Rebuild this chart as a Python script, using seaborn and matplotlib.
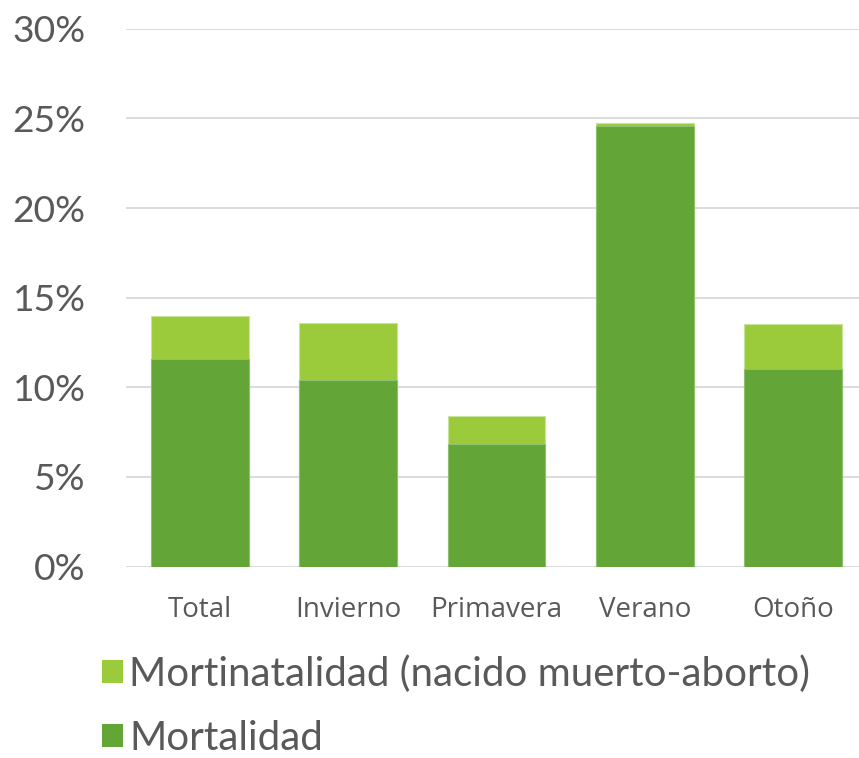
import matplotlib
matplotlib.use("Agg")
import matplotlib.pyplot as plt
import seaborn as sns
import pandas as pd
from matplotlib.patches import Patch
from matplotlib.ticker import PercentFormatter

categorias = ["Total", "Invierno", "Primavera", "Verano", "Otoño"]
mortalidad = [11.6, 10.4, 6.85, 24.55, 11.0]
mortinatalidad = [2.4, 3.2, 1.55, 0.18, 2.55]
yticks = [0, 5, 10, 15, 20, 25, 30]

c_dark = "#63A537"
c_light = "#9BCB3B"
txt = "#595959"

sns.set_theme(style="white")
plt.rcParams["font.family"] = ["Lato", "DejaVu Sans"]

df = pd.DataFrame({
    "cat": categorias,
    "mortalidad": mortalidad,
    "total": [a + b for a, b in zip(mortalidad, mortinatalidad)],
})

fig = plt.figure(figsize=(8.59, 7.58), dpi=100)
ax = fig.add_axes([126 / 859, 1 - 566.5 / 758, 741 / 859, (566.5 - 28.8) / 758])

sns.barplot(data=df, x="cat", y="total", color=c_light, saturation=1, width=0.66,
            edgecolor="#C8E39A", linewidth=0.8, ax=ax)
sns.barplot(data=df, x="cat", y="mortalidad", color=c_dark, saturation=1, width=0.66,
            edgecolor="#8FC070", linewidth=0.8, ax=ax)

ax.set_ylim(0, 30)
ax.set_xlim(-0.5, 4.5)
ax.set_yticks(yticks)
ax.yaxis.set_major_formatter(PercentFormatter(decimals=0))
ax.grid(axis="y", color="#D9D9D9", linewidth=1.3)
ax.set_axisbelow(True)
for s in ax.spines.values():
    s.set_visible(False)
ax.set_xlabel("")
ax.set_ylabel("")
ax.tick_params(axis="y", labelsize=26.8, labelcolor=txt, length=0, pad=29)
ax.tick_params(axis="x", labelsize=20, labelcolor=txt, length=0, pad=21)
for lab in ax.get_xticklabels():
    lab.set_fontfamily(["Open Sans", "DejaVu Sans"])

handles = [Patch(facecolor=c_light, edgecolor="none", label="Mortinatalidad (nacido muerto-aborto)"),
           Patch(facecolor=c_dark, edgecolor="none", label="Mortalidad")]
fig.legend(handles=handles, loc="upper left", bbox_to_anchor=(102 / 859, 1 - 655 / 758),
           frameon=False, fontsize=29, labelcolor=txt, handlelength=0.52, handleheight=0.52,
           handletextpad=0.15, labelspacing=0.68, borderaxespad=0, borderpad=0)

fig.savefig("out.png", dpi=100)
